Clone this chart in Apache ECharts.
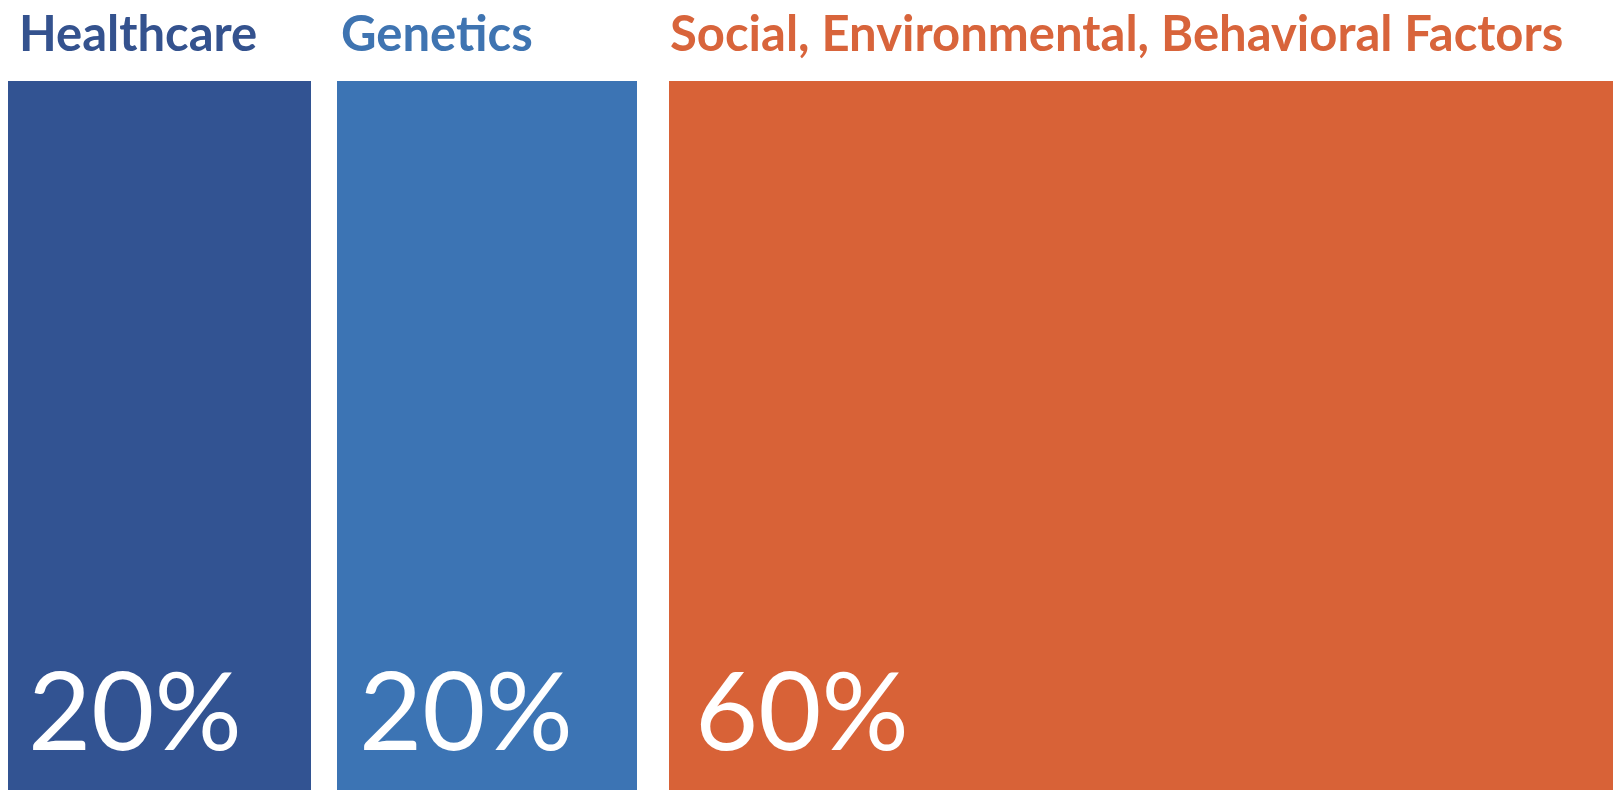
<!DOCTYPE html>
<html>
<head>
<meta charset="utf-8">
<script src="https://cdn.jsdelivr.net/npm/echarts@6/dist/echarts.min.js"></script>
<style>
html,body{margin:0;padding:0;background:#ffffff;}
#chart{width:1613px;height:793px;}
</style>
</head>
<body>
<div id="chart"></div>
<script>
const categories = ['Healthcare', 'Genetics', 'Social, Environmental, Behavioral Factors'];
const shares = [20, 20, 60];
const percentLabels = ['20%', '20%', '60%'];

const barColors = ['#325392', '#3C74B4', '#D86237'];
const textColors = ['#34528E', '#3F74B1', '#D8643B'];
const insetLeft = [0, 8, 19];
const insetRight = [18, 13, 0];
const titleOffset = [11, 4, 1];
const pctOffset = [20, 22, 26];

const data = [];
let acc = 0;
shares.forEach((v, i) => { data.push([acc, acc + v, i]); acc += v; });

const chart = echarts.init(document.getElementById('chart'));
chart.setOption({
  backgroundColor: '#ffffff',
  animation: false,
  grid: { left: 8, right: 0, top: 81, bottom: 3 },
  xAxis: { type: 'value', min: 0, max: 100, show: false },
  yAxis: { type: 'value', min: 0, max: 1, show: false },
  series: [{
    type: 'custom',
    data: data,
    renderItem: function (params, api) {
      const i = api.value(2);
      const s = api.coord([api.value(0), 0]);
      const e = api.coord([api.value(1), 1]);
      const x0 = s[0] + insetLeft[i];
      const x1 = e[0] - insetRight[i];
      const yTop = e[1], yBot = s[1];
      return {
        type: 'group',
        children: [
          { type: 'rect', shape: { x: x0, y: yTop, width: x1 - x0, height: yBot - yTop }, style: { fill: barColors[i] } },
          { type: 'text', style: { text: categories[i], x: x0 + titleOffset[i], y: yTop - 46, fill: textColors[i], font: 'bold 49px Lato', verticalAlign: 'middle', align: 'left' } },
          { type: 'text', style: { text: percentLabels[i], x: x0 + pctOffset[i], y: yBot - 75, fill: '#ffffff', font: '109px Lato', verticalAlign: 'middle', align: 'left' } }
        ]
      };
    }
  }]
});
</script>
</body>
</html>
